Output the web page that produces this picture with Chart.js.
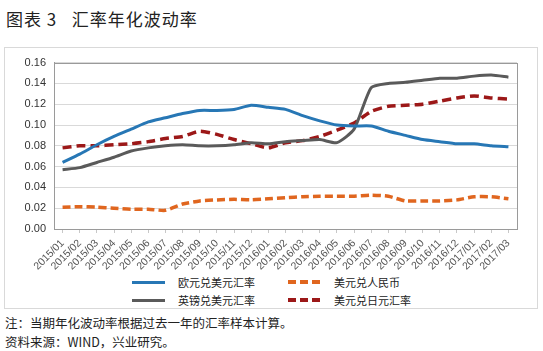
<!DOCTYPE html>
<html>
<head>
<meta charset="utf-8">
<script src="https://cdn.jsdelivr.net/npm/chart.js"></script>
<style>
  body { margin: 0; width: 543px; height: 351px; background: #fff; position: relative; overflow: hidden;
         font-family: "Noto Sans CJK SC", sans-serif; color: #222; }
  .title { position: absolute; left: 6px; top: 6px; font-size: 17px; letter-spacing: 1px; white-space: pre; }
  .box { position: absolute; left: 4px; top: 47px; width: 532px; height: 260px; border: 1px solid #d9d9d9; }
  .canvas-wrap { position: absolute; left: 0; top: 0; width: 532px; height: 224px; }
  .legend { position: absolute; left: 127px; top: 226px; display: grid; grid-template-columns: 156px 150px;
            row-gap: 2px; font-size: 11px; }
  .legend .item { display: flex; align-items: center; height: 16px; }
  .legend .swatch { width: 33px; height: 3px; margin-right: 13px; }
  .note { position: absolute; left: 5px; font-size: 12.5px; white-space: pre; }
</style>
</head>
<body>
<div class="title">图表 3   汇率年化波动率</div>
<div class="box">
  <div class="canvas-wrap"><canvas id="chart"></canvas></div>
  <div class="legend" id="legend"></div>
</div>
<div class="note" style="top:313px">注：当期年化波动率根据过去一年的汇率样本计算。</div>
<div class="note" style="top:332px">资料来源：WIND，兴业研究。</div>
<script>
// months on the x axis
const months = ['2015/01','2015/02','2015/03','2015/04','2015/05','2015/06','2015/07','2015/08','2015/09',
  '2015/10','2015/11','2015/12','2016/01','2016/02','2016/03','2016/04','2016/05','2016/06','2016/07',
  '2016/08','2016/09','2016/10','2016/11','2016/12','2017/01','2017/02','2017/03'];

// annualized volatility
const eurUsd = [0.064,0.072,0.081,0.089,0.096,0.103,0.107,0.111,0.114,0.114,0.115,0.119,0.117,0.115,0.109,
  0.104,0.100,0.099,0.099,0.094,0.090,0.086,0.084,0.082,0.082,0.080,0.079];
const usdCny = [0.021,0.0215,0.021,0.020,0.019,0.019,0.018,0.024,0.027,0.028,0.0285,0.028,0.029,0.030,0.031,
  0.0315,0.0315,0.0315,0.0325,0.0315,0.027,0.027,0.027,0.028,0.031,0.031,0.029];
const gbpUsd = [0.057,0.059,0.064,0.069,0.075,0.078,0.080,0.081,0.080,0.080,0.081,0.083,0.082,0.084,0.085,
  0.086,0.083,0.096,0.136,0.140,0.141,0.143,0.145,0.145,0.147,0.148,0.146];
const usdJpy = [0.078,0.080,0.080,0.081,0.082,0.084,0.087,0.089,0.094,0.091,0.086,0.082,0.078,0.083,0.085,
  0.089,0.095,0.102,0.113,0.118,0.119,0.120,0.123,0.126,0.128,0.126,0.125];

const yTicks = [0, 0.02, 0.04, 0.06, 0.08, 0.10, 0.12, 0.14, 0.16];

const series = [
  { label: '欧元兑美元汇率', data: eurUsd, color: '#2777b5', dash: [] },
  { label: '美元兑人民币', data: usdCny, color: '#e0661f', dash: [8, 4] },
  { label: '英镑兑美元汇率', data: gbpUsd, color: '#5a5a5a', dash: [] },
  { label: '美元兑日元汇率', data: usdJpy, color: '#9c1818', dash: [9, 5] }
];

const frame = {
  id: 'frame',
  afterDraw(chart) {
    const a = chart.chartArea, ctx = chart.ctx;
    ctx.save();
    ctx.strokeStyle = '#9a9a9a';
    ctx.lineWidth = 1;
    ctx.strokeRect(Math.round(a.left) + 0.5, Math.round(a.top) + 0.5,
      Math.round(a.right - a.left), Math.round(a.bottom - a.top));
    ctx.restore();
  }
};

new Chart(document.getElementById('chart'), {
  type: 'line',
  data: {
    labels: months,
    datasets: series.map(s => ({
      label: s.label,
      data: s.data,
      borderColor: s.color,
      backgroundColor: s.color,
      borderWidth: s.dash.length ? 3.5 : 3,
      borderDash: s.dash,
      pointRadius: 0,
      tension: 0.2,
      fill: false
    }))
  },
  options: {
    responsive: true,
    maintainAspectRatio: false,
    animation: false,
    layout: { padding: { top: 9, right: 20, left: 0, bottom: 0 } },
    plugins: { legend: { display: false }, tooltip: { enabled: false } },
    scales: {
      x: {
        offset: true,
        grid: { drawOnChartArea: false, tickLength: 4, color: '#c8c8c8' },
        border: { color: '#9a9a9a' },
        afterFit: s => { s.height = 43; },
        ticks: { autoSkip: false, minRotation: 45, maxRotation: 45, padding: 4,
                 font: { size: 10.5, family: 'Liberation Sans' }, color: '#555' }
      },
      y: {
        min: 0, max: 0.16,
        afterFit: s => { s.width = 49; },
        afterBuildTicks: s => { s.ticks = yTicks.map(v => ({ value: v })); },
        grid: { color: '#d9d9d9', drawTicks: false },
        border: { color: '#9a9a9a' },
        ticks: { padding: 8, callback: v => v.toFixed(2),
                 font: { size: 11, family: 'Liberation Sans' }, color: '#333' }
      }
    }
  },
  plugins: [frame]
});

// legend, two columns like the original
const legend = document.getElementById('legend');
series.forEach(s => {
  const item = document.createElement('div');
  item.className = 'item';
  const sw = document.createElement('span');
  sw.className = 'swatch';
  if (s.dash.length) {
    sw.style.background = `repeating-linear-gradient(90deg, ${s.color} 0 8px, transparent 8px 12px)`;
    sw.style.height = '4px';
  } else {
    sw.style.background = s.color;
  }
  item.appendChild(sw);
  item.appendChild(document.createTextNode(s.label));
  legend.appendChild(item);
});
</script>
</body>
</html>
